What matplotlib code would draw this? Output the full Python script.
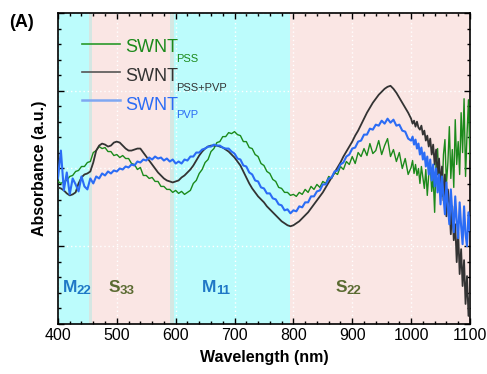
import numpy as np
import matplotlib
matplotlib.use("Agg")
import matplotlib.pyplot as plt
from matplotlib.ticker import MultipleLocator

plt.rcParams['font.family'] = ['Liberation Sans', 'DejaVu Sans']

# wavelength grid: 5 nm steps, finer 2.5 nm steps in the noisy NIR tail
wavelength = np.concatenate([np.arange(400, 1000, 5), np.arange(1000, 1100.1, 2.5)])

# absorbance (arbitrary units)
absorb_pss = [
    143, 141, 143, 144, 148, 149, 153, 154, 158, 158, 162, 163, 172, 174, 178, 176, 177, 173, 173, 169,
    170, 167, 169, 166, 166, 161, 160, 155, 157, 149, 149, 146, 147, 143, 143, 138, 138, 135, 135, 132,
    134, 131, 133, 130, 132, 134, 141, 144, 151, 155, 162, 165, 173, 176, 182, 183, 188, 188, 192, 191,
    193, 190, 189, 183, 183, 177, 176, 170, 168, 161, 159, 153, 151, 145, 143, 137, 136, 132, 132, 129,
    130, 128, 132, 130, 135, 132, 138, 135, 140, 137, 143, 141, 148, 146, 152, 150, 158, 155, 163, 160,
    168, 161, 172, 168, 176, 169, 181, 171, 174, 184, 170, 179, 186, 168, 175, 163, 172, 156, 166, 150,
    157, 164, 151, 160, 149, 156, 141, 158, 147, 136, 155, 129, 150, 160, 133, 147, 112, 165, 176, 138,
    150, 128, 170, 185, 140, 162, 198, 146, 175, 137, 205, 160, 183, 150, 212, 172, 226, 148, 190, 225,
    165,
]
absorb_pss_pvp = [
    137, 136, 134, 131, 129, 130, 132, 141, 147, 150, 151, 153, 162, 174, 179, 181, 180, 178, 179, 182,
    183, 182, 179, 176, 174, 174, 175, 176, 176, 172, 168, 164, 160, 156, 152, 149, 146, 144, 143, 142,
    143, 144, 147, 149, 152, 155, 159, 164, 169, 173, 176, 178, 179, 179, 179, 178, 177, 175, 173, 170,
    167, 163, 159, 153, 147, 141, 136, 132, 128, 125, 122, 118, 115, 112, 109, 106, 103, 101, 99, 98,
    99, 101, 103, 106, 109, 112, 116, 120, 124, 128, 132, 137, 142, 147, 152, 157, 162, 168, 173, 178,
    183, 189, 194, 200, 206, 212, 217, 222, 226, 230, 233, 236, 238, 239, 236, 232, 227, 222, 217, 212,
    206, 201, 204, 198, 203, 197, 195, 199, 190, 194, 184, 189, 178, 186, 170, 180, 160, 175, 150, 166,
    138, 158, 124, 150, 108, 135, 120, 90, 118, 84, 100, 62, 92, 50, 75, 38, 64, 20, 48, 8,
    30,
]
absorb_pvp = [
    146, 174, 134, 152, 130, 146, 140, 133, 148, 138, 135, 146, 141, 148, 146, 151, 149, 153, 151, 154,
    153, 156, 155, 158, 157, 160, 159, 163, 162, 165, 164, 167, 165, 168, 166, 167, 164, 166, 163, 165,
    161, 163, 161, 165, 164, 168, 168, 172, 172, 175, 176, 178, 178, 180, 179, 179, 177, 176, 176, 173,
    171, 166, 165, 159, 158, 152, 150, 144, 143, 137, 136, 131, 131, 126, 125, 120, 119, 114, 115, 111,
    114, 113, 118, 117, 122, 122, 128, 128, 133, 134, 140, 140, 146, 147, 153, 154, 160, 162, 168, 170,
    176, 177, 183, 184, 190, 190, 196, 195, 200, 199, 204, 201, 206, 202, 205, 199, 200, 194, 193, 186,
    184, 188, 180, 185, 176, 181, 170, 177, 165, 172, 158, 168, 150, 165, 144, 160, 138, 156, 132, 150,
    120, 148, 128, 110, 142, 118, 100, 135, 112, 92, 128, 104, 86, 122, 98, 80, 118, 90, 78, 112,
    94,
]

series_labels = ['PSS', 'PSS+PVP', 'PVP']
series_colors = ['#1b8a1b', '#333333', '#2b6cf5']
legend_line_colors = ['#2a9a2a', '#555555', '#7fa8f2']

# absorption band regions (nm) and their fill colours
band_edges = [400, 453, 458, 590, 597, 795, 1100]
band_colors = ['#bcfcfc', '#d4e7e3', '#fae6e4', '#d4e7e3', '#bcfcfc', '#fae6e4']
band_names = [('M', '22'), ('S', '33'), ('M', '11'), ('S', '22')]
band_name_colors = ['#1f78c6', '#5b6b32', '#1f78c6', '#5b6b32']

fig = plt.figure(figsize=(4.87, 3.74), dpi=100)
ax = fig.add_axes([0.119, 0.134, 0.846, 0.831])

for i in range(len(band_colors)):
    ax.axvspan(band_edges[i], band_edges[i + 1], color=band_colors[i], lw=0, zorder=0)

ax.set_xlim(400, 1100)
ax.set_ylim(0, 312)
ax.xaxis.set_major_locator(MultipleLocator(100))
ax.xaxis.set_minor_locator(MultipleLocator(20))
ax.yaxis.set_major_locator(MultipleLocator(78))
ax.yaxis.set_minor_locator(MultipleLocator(15.6))
ax.grid(True, which='major', color='white', linestyle=(0, (1, 2)), linewidth=1.0, zorder=1)
ax.set_axisbelow(True)

ax.plot(wavelength, absorb_pss, color=series_colors[0], lw=1.0, zorder=3)
ax.plot(wavelength, absorb_pss_pvp, color=series_colors[1], lw=1.3, zorder=4)
ax.plot(wavelength, absorb_pvp, color=series_colors[2], lw=1.5, zorder=5)

ax.tick_params(which='both', direction='in', top=True, right=True, width=1, colors='black',
               labelsize=11.5, labelleft=False, pad=3)
ax.tick_params(which='major', length=4)
ax.tick_params(which='minor', length=2.2)
for s in ax.spines.values():
    s.set_linewidth(1.2)

ax.set_xlabel('Wavelength (nm)', fontsize=11.5, fontweight='bold', labelpad=5)
ax.set_ylabel('Absorbance (a.u.)', fontsize=11.5, fontweight='bold', labelpad=8)
fig.text(0.018, 0.928, '(A)', fontsize=13, fontweight='bold')

# legend drawn by hand so the subscripts sit low like chemical labels
line_y = [0.900, 0.810, 0.720]
text_y = [0.875, 0.781, 0.688]
sub_y = [0.842, 0.749, 0.662]
for i in range(3):
    ax.plot([0.058, 0.150], [line_y[i], line_y[i]], transform=ax.transAxes,
            color=legend_line_colors[i], lw=1.2 if i < 2 else 1.8, zorder=6)
    ax.text(0.163, text_y[i], 'SWNT', transform=ax.transAxes, fontsize=13,
            color=series_colors[i], va='baseline', zorder=6)
    ax.text(0.288, sub_y[i], series_labels[i], transform=ax.transAxes, fontsize=8,
            color=series_colors[i], va='baseline', zorder=6)

# band labels along the bottom
name_x = [0.012, 0.124, 0.350, 0.675]
sub_x = [0.046, 0.150, 0.383, 0.701]
for i, (letter, idx) in enumerate(band_names):
    ax.text(name_x[i], 0.103, letter, transform=ax.transAxes, fontsize=12.5,
            fontweight='bold', color=band_name_colors[i], va='baseline', zorder=6)
    ax.text(sub_x[i], 0.096, idx, transform=ax.transAxes, fontsize=9.5,
            fontweight='bold', color=band_name_colors[i], va='baseline', zorder=6)

fig.savefig('out.png', dpi=100)
